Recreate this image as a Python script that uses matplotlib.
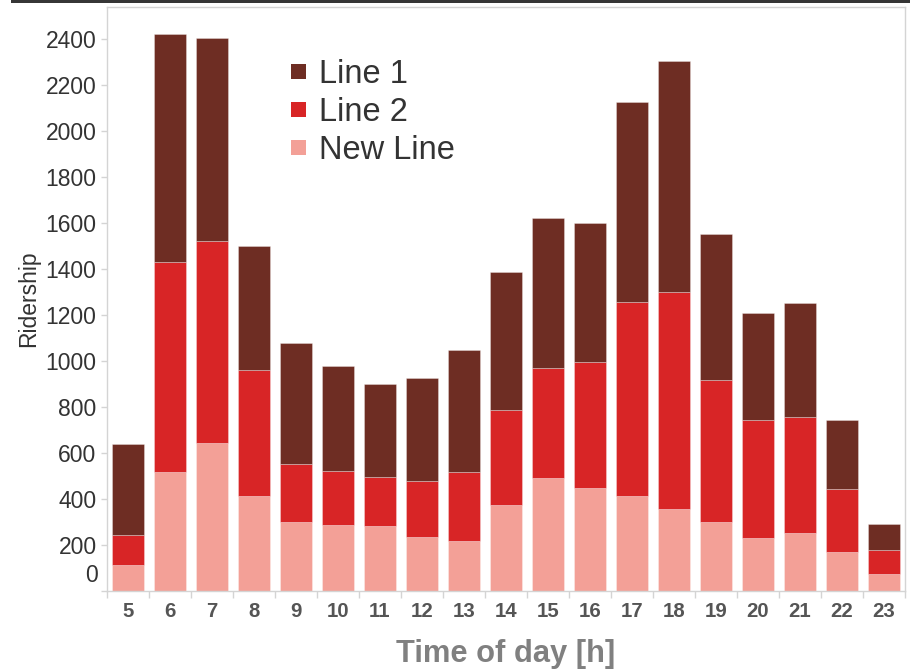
import matplotlib
matplotlib.use("Agg")
import matplotlib.pyplot as plt
from matplotlib.patches import Rectangle
import numpy as np

plt.rcParams['font.family'] = ['Liberation Sans', 'DejaVu Sans']

hours = [5, 6, 7, 8, 9, 10, 11, 12, 13, 14, 15, 16, 17, 18, 19, 20, 21, 22, 23]
new_line = [112, 515, 640, 411, 297, 286, 280, 231, 216, 372, 490, 444, 411, 356, 297, 227, 251, 166, 73]
line_2 = [129, 915, 878, 546, 253, 234, 215, 244, 299, 411, 476, 551, 843, 943, 620, 516, 502, 274, 103]
line_1 = [396, 991, 883, 541, 525, 456, 402, 450, 531, 601, 655, 602, 870, 1003, 632, 464, 497, 303, 114]
series_names = ["Line 1", "Line 2", "New Line"]
y_ticks = [0, 200, 400, 600, 800, 1000, 1200, 1400, 1600, 1800, 2000, 2200, 2400]

c_line1 = "#6E2D23"
c_line2 = "#D82526"
c_new = "#F3A097"
grid_grey = "#D4D4D4"

W, H = 910, 672
fig = plt.figure(figsize=(W / 100, H / 100), dpi=100)

# dark strip along the top edge
fig.patches.append(Rectangle((11 / W, 1 - 3 / H), 1, 3 / H, transform=fig.transFigure,
                             facecolor="#363636", edgecolor="none"))

ax_l, ax_r, ax_t, ax_b = 107, 905, 7, 590.5
ax = fig.add_axes([ax_l / W, 1 - ax_b / H, (ax_r - ax_l) / W, (ax_b - ax_t) / H])

x = np.arange(len(hours))
nl = np.array(new_line)
l2 = np.array(line_2)
l1 = np.array(line_1)
bw = 0.75
edge = dict(edgecolor=(1, 1, 1, 0.35), linewidth=0.6)
ax.bar(x, nl, bw, color=c_new, **edge)
ax.bar(x, l2, bw, bottom=nl, color=c_line2, **edge)
ax.bar(x, l1, bw, bottom=nl + l2, color=c_line1, **edge)

ax.set_xlim(-0.5, len(hours) - 0.5)
ax.set_ylim(0, (ax_b - ax_t) * 200 / 46)

for s in ax.spines.values():
    s.set_color(grid_grey)
    s.set_linewidth(1.0)

# y axis
tick_fs = 16.5
ax.set_yticks(y_ticks)
ax.set_yticklabels([""] + [str(v) for v in y_ticks[1:]])
ax.tick_params(axis="y", length=4.5, width=1.0, color=grid_grey, pad=3,
               labelsize=tick_fs, labelcolor="#333333")
ax.annotate("0", xy=(0, 0), xycoords=("axes fraction", "data"), xytext=(-9, 15),
            textcoords="offset pixels", ha="right", va="center",
            fontsize=tick_fs, color="#333333")

# x axis: labels at bar centres, tick marks between bars
ax.set_xticks(x)
ax.set_xticklabels([str(h) for h in hours])
ax.set_xticks(np.arange(len(hours) + 1) - 0.5, minor=True)
ax.tick_params(axis="x", which="major", length=0, pad=8, labelsize=14.7,
               labelcolor="#555555")
ax.tick_params(axis="x", which="minor", length=5, width=1.0, color=grid_grey)
for lbl in ax.get_xticklabels():
    lbl.set_fontweight("bold")

ax.set_xlabel("Time of day [h]", fontsize=22.2, fontweight="bold", color="#808080", labelpad=13)
ax.set_ylabel("Ridership", fontsize=16.5, color="#333333", labelpad=4)

# legend drawn as squares with labels
def fx(px):
    return (px - ax_l) / (ax_r - ax_l)

def fy(py):
    return (ax_b - py) / (ax_b - ax_t)

sq = 15
for i, (name, col) in enumerate(zip(series_names, [c_line1, c_line2, c_new])):
    cy = 71.7 + i * 37.7
    ax.add_patch(Rectangle((fx(291), fy(cy + sq / 2)), sq / (ax_r - ax_l), sq / (ax_b - ax_t),
                           transform=ax.transAxes, facecolor=col, edgecolor="none",
                           clip_on=False))
    ax.text(fx(319), fy(cy + 11.5), name, transform=ax.transAxes, ha="left", va="baseline",
            fontsize=23.5, color="#333333")

fig.savefig("out.png", dpi=100)
